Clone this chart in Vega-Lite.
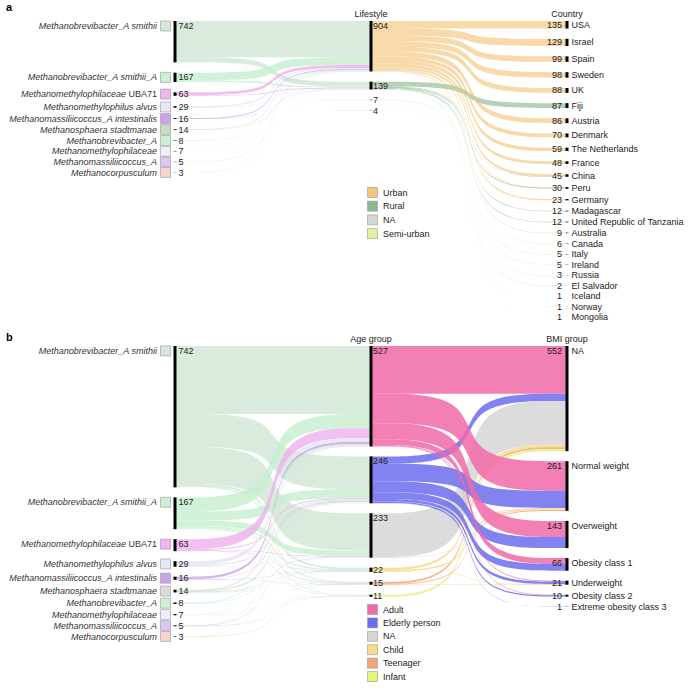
{
"$schema":"https://vega.github.io/schema/vega-lite/v6.json",
"padding":{"top":2,"left":0,"right":0,"bottom":0},
"spacing":0,
"config":{"view":{"stroke":null},"font":"Liberation Sans","text":{"font":"Liberation Sans","fontSize":9,"color":"#222"},"title":{"font":"Liberation Sans"}},
"datasets":{
"links":[
{"p":"a","s":0,"src":"Methanobrevibacter_A smithii","tgt":"Urban","v":651},
{"p":"a","s":0,"src":"Methanobrevibacter_A smithii","tgt":"Rural","v":85},
{"p":"a","s":0,"src":"Methanobrevibacter_A smithii","tgt":"NA","v":4},
{"p":"a","s":0,"src":"Methanobrevibacter_A smithii","tgt":"Semi-urban","v":2},
{"p":"a","s":0,"src":"Methanobrevibacter_A smithii_A","tgt":"Urban","v":140},
{"p":"a","s":0,"src":"Methanobrevibacter_A smithii_A","tgt":"Rural","v":25},
{"p":"a","s":0,"src":"Methanobrevibacter_A smithii_A","tgt":"NA","v":2},
{"p":"a","s":0,"src":"Methanomethylophilaceae UBA71","tgt":"Urban","v":50},
{"p":"a","s":0,"src":"Methanomethylophilaceae UBA71","tgt":"Rural","v":12},
{"p":"a","s":0,"src":"Methanomethylophilaceae UBA71","tgt":"Semi-urban","v":1},
{"p":"a","s":0,"src":"Methanomethylophilus alvus","tgt":"Urban","v":22},
{"p":"a","s":0,"src":"Methanomethylophilus alvus","tgt":"Rural","v":7},
{"p":"a","s":0,"src":"Methanomassiliicoccus_A intestinalis","tgt":"Urban","v":13},
{"p":"a","s":0,"src":"Methanomassiliicoccus_A intestinalis","tgt":"Rural","v":3},
{"p":"a","s":0,"src":"Methanosphaera stadtmanae","tgt":"Urban","v":9},
{"p":"a","s":0,"src":"Methanosphaera stadtmanae","tgt":"Rural","v":5},
{"p":"a","s":0,"src":"Methanobrevibacter_A","tgt":"Urban","v":6},
{"p":"a","s":0,"src":"Methanobrevibacter_A","tgt":"Rural","v":2},
{"p":"a","s":0,"src":"Methanomethylophilaceae","tgt":"Urban","v":5},
{"p":"a","s":0,"src":"Methanomethylophilaceae","tgt":"NA","v":1},
{"p":"a","s":0,"src":"Methanomethylophilaceae","tgt":"Semi-urban","v":1},
{"p":"a","s":0,"src":"Methanomassiliicoccus_A","tgt":"Urban","v":5},
{"p":"a","s":0,"src":"Methanocorpusculum","tgt":"Urban","v":3},
{"p":"a","s":1,"src":"Urban","tgt":"USA","v":135},
{"p":"a","s":1,"src":"Urban","tgt":"Israel","v":129},
{"p":"a","s":1,"src":"Urban","tgt":"Spain","v":99},
{"p":"a","s":1,"src":"Urban","tgt":"Sweden","v":98},
{"p":"a","s":1,"src":"Urban","tgt":"UK","v":88},
{"p":"a","s":1,"src":"Rural","tgt":"Fiji","v":87},
{"p":"a","s":1,"src":"Urban","tgt":"Austria","v":86},
{"p":"a","s":1,"src":"Urban","tgt":"Denmark","v":70},
{"p":"a","s":1,"src":"Urban","tgt":"The Netherlands","v":59},
{"p":"a","s":1,"src":"Urban","tgt":"France","v":48},
{"p":"a","s":1,"src":"Urban","tgt":"China","v":39},
{"p":"a","s":1,"src":"Rural","tgt":"China","v":6},
{"p":"a","s":1,"src":"Urban","tgt":"Peru","v":7},
{"p":"a","s":1,"src":"Rural","tgt":"Peru","v":19},
{"p":"a","s":1,"src":"Semi-urban","tgt":"Peru","v":4},
{"p":"a","s":1,"src":"Urban","tgt":"Germany","v":23},
{"p":"a","s":1,"src":"Rural","tgt":"Madagascar","v":12},
{"p":"a","s":1,"src":"Rural","tgt":"United Republic of Tanzania","v":12},
{"p":"a","s":1,"src":"Urban","tgt":"Australia","v":9},
{"p":"a","s":1,"src":"Urban","tgt":"Canada","v":3},
{"p":"a","s":1,"src":"NA","tgt":"Canada","v":3},
{"p":"a","s":1,"src":"Urban","tgt":"Italy","v":3},
{"p":"a","s":1,"src":"NA","tgt":"Italy","v":2},
{"p":"a","s":1,"src":"Urban","tgt":"Ireland","v":5},
{"p":"a","s":1,"src":"Urban","tgt":"Russia","v":1},
{"p":"a","s":1,"src":"NA","tgt":"Russia","v":2},
{"p":"a","s":1,"src":"Rural","tgt":"El Salvador","v":2},
{"p":"a","s":1,"src":"Urban","tgt":"Iceland","v":1},
{"p":"a","s":1,"src":"Urban","tgt":"Norway","v":1},
{"p":"a","s":1,"src":"Rural","tgt":"Mongolia","v":1},
{"p":"b","s":0,"src":"Methanobrevibacter_A smithii","tgt":"Adult","v":357},
{"p":"b","s":0,"src":"Methanobrevibacter_A smithii","tgt":"Elderly person","v":173},
{"p":"b","s":0,"src":"Methanobrevibacter_A smithii","tgt":"NA","v":195},
{"p":"b","s":0,"src":"Methanobrevibacter_A smithii","tgt":"Child","v":9},
{"p":"b","s":0,"src":"Methanobrevibacter_A smithii","tgt":"Teenager","v":5},
{"p":"b","s":0,"src":"Methanobrevibacter_A smithii","tgt":"Infant","v":3},
{"p":"b","s":0,"src":"Methanobrevibacter_A smithii_A","tgt":"Adult","v":75},
{"p":"b","s":0,"src":"Methanobrevibacter_A smithii_A","tgt":"Elderly person","v":47},
{"p":"b","s":0,"src":"Methanobrevibacter_A smithii_A","tgt":"NA","v":30},
{"p":"b","s":0,"src":"Methanobrevibacter_A smithii_A","tgt":"Child","v":7},
{"p":"b","s":0,"src":"Methanobrevibacter_A smithii_A","tgt":"Teenager","v":5},
{"p":"b","s":0,"src":"Methanobrevibacter_A smithii_A","tgt":"Infant","v":3},
{"p":"b","s":0,"src":"Methanomethylophilaceae UBA71","tgt":"Adult","v":52},
{"p":"b","s":0,"src":"Methanomethylophilaceae UBA71","tgt":"Elderly person","v":5},
{"p":"b","s":0,"src":"Methanomethylophilaceae UBA71","tgt":"NA","v":3},
{"p":"b","s":0,"src":"Methanomethylophilaceae UBA71","tgt":"Child","v":2},
{"p":"b","s":0,"src":"Methanomethylophilaceae UBA71","tgt":"Teenager","v":1},
{"p":"b","s":0,"src":"Methanomethylophilus alvus","tgt":"Adult","v":18},
{"p":"b","s":0,"src":"Methanomethylophilus alvus","tgt":"Elderly person","v":8},
{"p":"b","s":0,"src":"Methanomethylophilus alvus","tgt":"NA","v":2},
{"p":"b","s":0,"src":"Methanomethylophilus alvus","tgt":"Teenager","v":1},
{"p":"b","s":0,"src":"Methanomassiliicoccus_A intestinalis","tgt":"Adult","v":12},
{"p":"b","s":0,"src":"Methanomassiliicoccus_A intestinalis","tgt":"Elderly person","v":2},
{"p":"b","s":0,"src":"Methanomassiliicoccus_A intestinalis","tgt":"Child","v":1},
{"p":"b","s":0,"src":"Methanomassiliicoccus_A intestinalis","tgt":"Teenager","v":1},
{"p":"b","s":0,"src":"Methanosphaera stadtmanae","tgt":"Adult","v":5},
{"p":"b","s":0,"src":"Methanosphaera stadtmanae","tgt":"Elderly person","v":5},
{"p":"b","s":0,"src":"Methanosphaera stadtmanae","tgt":"NA","v":2},
{"p":"b","s":0,"src":"Methanosphaera stadtmanae","tgt":"Child","v":1},
{"p":"b","s":0,"src":"Methanosphaera stadtmanae","tgt":"Teenager","v":1},
{"p":"b","s":0,"src":"Methanobrevibacter_A","tgt":"Adult","v":4},
{"p":"b","s":0,"src":"Methanobrevibacter_A","tgt":"Elderly person","v":2},
{"p":"b","s":0,"src":"Methanobrevibacter_A","tgt":"Child","v":1},
{"p":"b","s":0,"src":"Methanobrevibacter_A","tgt":"Infant","v":1},
{"p":"b","s":0,"src":"Methanomethylophilaceae","tgt":"Adult","v":2},
{"p":"b","s":0,"src":"Methanomethylophilaceae","tgt":"Elderly person","v":2},
{"p":"b","s":0,"src":"Methanomethylophilaceae","tgt":"NA","v":1},
{"p":"b","s":0,"src":"Methanomethylophilaceae","tgt":"Child","v":1},
{"p":"b","s":0,"src":"Methanomethylophilaceae","tgt":"Infant","v":1},
{"p":"b","s":0,"src":"Methanomassiliicoccus_A","tgt":"Adult","v":1},
{"p":"b","s":0,"src":"Methanomassiliicoccus_A","tgt":"Elderly person","v":2},
{"p":"b","s":0,"src":"Methanomassiliicoccus_A","tgt":"Teenager","v":1},
{"p":"b","s":0,"src":"Methanomassiliicoccus_A","tgt":"Infant","v":1},
{"p":"b","s":0,"src":"Methanocorpusculum","tgt":"Adult","v":1},
{"p":"b","s":0,"src":"Methanocorpusculum","tgt":"Infant","v":2},
{"p":"b","s":1,"src":"Adult","tgt":"NA","v":250},
{"p":"b","s":1,"src":"Elderly person","tgt":"NA","v":39},
{"p":"b","s":1,"src":"NA","tgt":"NA","v":230},
{"p":"b","s":1,"src":"Child","tgt":"NA","v":12},
{"p":"b","s":1,"src":"Teenager","tgt":"NA","v":10},
{"p":"b","s":1,"src":"Infant","tgt":"NA","v":11},
{"p":"b","s":1,"src":"Adult","tgt":"Normal weight","v":155},
{"p":"b","s":1,"src":"Elderly person","tgt":"Normal weight","v":91},
{"p":"b","s":1,"src":"NA","tgt":"Normal weight","v":3},
{"p":"b","s":1,"src":"Child","tgt":"Normal weight","v":8},
{"p":"b","s":1,"src":"Teenager","tgt":"Normal weight","v":4},
{"p":"b","s":1,"src":"Adult","tgt":"Overweight","v":85},
{"p":"b","s":1,"src":"Elderly person","tgt":"Overweight","v":58},
{"p":"b","s":1,"src":"Adult","tgt":"Obesity class 1","v":30},
{"p":"b","s":1,"src":"Elderly person","tgt":"Obesity class 1","v":36},
{"p":"b","s":1,"src":"Adult","tgt":"Underweight","v":4},
{"p":"b","s":1,"src":"Elderly person","tgt":"Underweight","v":14},
{"p":"b","s":1,"src":"Child","tgt":"Underweight","v":2},
{"p":"b","s":1,"src":"Teenager","tgt":"Underweight","v":1},
{"p":"b","s":1,"src":"Adult","tgt":"Obesity class 2","v":3},
{"p":"b","s":1,"src":"Elderly person","tgt":"Obesity class 2","v":7},
{"p":"b","s":1,"src":"Elderly person","tgt":"Extreme obesity class 3","v":1}
],
"headers":[{"k":"a1","h":"Lifestyle"},{"k":"a2","h":"Country"},{"k":"b1","h":"Age group"},{"k":"b2","h":"BMI group"}]
},
"data":{"name":"links"},
"transform":[
{"window":[{"op":"row_number","as":"idx"}]},
{"joinaggregate":[{"op":"sum","field":"v","as":"sT"},{"op":"min","field":"idx","as":"sF"}],"groupby":["p","s","src"]},
{"joinaggregate":[{"op":"sum","field":"v","as":"tT"},{"op":"min","field":"idx","as":"tF"}],"groupby":["p","s","tgt"]},
{"window":[{"op":"sum","field":"v","as":"sCum"},{"op":"dense_rank","as":"sR"}],"groupby":["p","s"],"sort":[{"field":"sT","order":"descending"},{"field":"sF","order":"ascending"}],"frame":[null,0]},
{"window":[{"op":"sum","field":"v","as":"tCum"},{"op":"dense_rank","as":"tR"}],"groupby":["p","s"],"sort":[{"field":"tT","order":"descending"},{"field":"tF","order":"ascending"}],"frame":[null,0]},
{"window":[{"op":"sum","field":"v","as":"sOff"}],"groupby":["p","s","src"],"sort":[{"field":"tT","order":"descending"},{"field":"tF","order":"ascending"}],"frame":[null,0]},
{"window":[{"op":"sum","field":"v","as":"tOff"}],"groupby":["p","s","tgt"],"sort":[{"field":"sT","order":"descending"},{"field":"sF","order":"ascending"}],"frame":[null,0]},
{"calculate":"datum.p == 'a' ? 185 : 52.5","as":"pad"},
{"calculate":"datum.sCum - datum.sT + (datum.sR - 1) * datum.pad + datum.sOff - datum.v","as":"sy0"},
{"calculate":"datum.sy0 + datum.v","as":"sy1"},
{"calculate":"datum.tCum - datum.tT + (datum.tR - 1) * datum.pad + datum.tOff - datum.v","as":"ty0"},
{"calculate":"datum.ty0 + datum.v","as":"ty1"}
],
"resolve":{"scale":{"color":"independent","fill":"independent","x":"independent","y":"independent"},"legend":{"color":"independent"}},
"vconcat":[
{
"title":{"text":"a","anchor":"start","fontSize":11,"fontWeight":"bold","dx":6,"dy":3,"offset":0,"color":"#000"},
"width":700,"height":313,
"transform":[{"filter":"datum.p == 'a'"}],
"layer":[
{
"transform":[
{"calculate":"[0, 1, 2, 3]","as":"pt"},
{"flatten":["pt"]},
{"calculate":"datum.s + [0, 0.5, 0.5001, 1][datum.pt]","as":"lx"},
{"calculate":"datum.pt < 2 ? datum.sy0 : datum.ty0","as":"ly0"},
{"calculate":"datum.pt < 2 ? datum.sy1 : datum.ty1","as":"ly1"},
{"calculate":"datum.s + '|' + datum.src + '|' + datum.tgt","as":"lid"}
],
"mark":{"type":"area","interpolate":"basis"},
"encoding":{
"x":{"field":"lx","type":"quantitative","scale":{"domain":[0,2],"range":[175,567],"nice":false,"zero":false},"axis":null},
"y":{"field":"ly0","type":"quantitative","scale":{"domain":[0,5309],"range":[2,298],"nice":false,"zero":false},"axis":null,"stack":null},
"y2":{"field":"ly1"},
"color":{"field":"src","type":"nominal",
"scale":{"domain":["Methanobrevibacter_A smithii","Methanobrevibacter_A smithii_A","Methanomethylophilaceae UBA71","Methanomethylophilus alvus","Methanomassiliicoccus_A intestinalis","Methanosphaera stadtmanae","Methanobrevibacter_A","Methanomethylophilaceae","Methanomassiliicoccus_A","Methanocorpusculum","Urban","Rural","NA","Semi-urban"],
"range":["#cfe6d4","#c6efcf","#eeb0ee","#e4e4f4","#c9a0e6","#c5d8c6","#c8efd0","#efeaf8","#d9c3f0","#f7cfca","#f3c47c","#8cba90","#d6d6d6","#e4efa0"]},
"legend":{"values":["Urban","Rural","NA","Semi-urban"],"orient":"none","legendX":367,"legendY":168,"title":null,"symbolType":"square","symbolSize":100,"symbolStrokeColor":"#999","symbolStrokeWidth":0.6,"symbolOpacity":1,"labelFontSize":9,"labelFont":"Liberation Sans","labelColor":"#222","labelOffset":5,"rowPadding":0.7,"padding":0}},
"detail":{"field":"lid"},
"opacity":{"condition":{"test":"datum.s == 0","value":0.8},"value":0.65}
}
},
{
"transform":[
{"calculate":"[{col: datum.s, node: datum.src, y0: datum.sy0, y1: datum.sy1, keep: datum.s == 0}, {col: datum.s + 1, node: datum.tgt, y0: datum.ty0, y1: datum.ty1, keep: true}]","as":"ep"},
{"flatten":["ep"]},
{"filter":"datum.ep.keep"},
{"calculate":"datum.ep.col","as":"col"},
{"calculate":"datum.ep.node","as":"node"},
{"calculate":"datum.ep.y0","as":"ey0"},
{"calculate":"datum.ep.y1","as":"ey1"},
{"aggregate":[{"op":"min","field":"ey0","as":"y0"},{"op":"max","field":"ey1","as":"y1"},{"op":"sum","field":"v","as":"val"}],"groupby":["p","col","node"]},
{"calculate":"min((datum.y0 + datum.y1) / 2, datum.y0 + 90)","as":"lab"},
{"calculate":"datum.p + datum.col","as":"k"},
{"lookup":"k","from":{"data":{"name":"headers"},"key":"k","fields":["h"]}},
{"joinaggregate":[{"op":"min","field":"y0","as":"cmin"}],"groupby":["p","col"]}
],
"encoding":{
"x":{"field":"col","type":"quantitative","scale":{"domain":[0,2],"range":[175,567],"nice":false,"zero":false},"axis":null},
"y":{"field":"lab","type":"quantitative","scale":{"domain":[0,5309],"range":[2,298],"nice":false,"zero":false},"axis":null}
},
"layer":[
{"mark":{"type":"rule","strokeWidth":3,"color":"#000","strokeCap":"butt"},
 "encoding":{"y":{"field":"y0","type":"quantitative","scale":{"domain":[0,5309],"range":[2,298],"nice":false,"zero":false},"axis":null},"y2":{"field":"y1"}}},
{"transform":[{"filter":"datum.col == 0"}],
 "mark":{"type":"rect","xOffset":-14.5,"x2Offset":-4.5,"yOffset":-5,"y2Offset":5,"stroke":"#999","strokeWidth":0.6},
 "encoding":{"x2":{"field":"col"},"y2":{"field":"lab"},
 "fill":{"field":"node","type":"nominal","legend":null,"scale":{"domain":["Methanobrevibacter_A smithii","Methanobrevibacter_A smithii_A","Methanomethylophilaceae UBA71","Methanomethylophilus alvus","Methanomassiliicoccus_A intestinalis","Methanosphaera stadtmanae","Methanobrevibacter_A","Methanomethylophilaceae","Methanomassiliicoccus_A","Methanocorpusculum"],"range":["#d6e8da","#cdf0d4","#f0b4f0","#e8e8f4","#cba4e8","#c9dcca","#cdf0d4","#f1edf8","#dbc6f0","#f8d2cd"]}}}},
{"transform":[{"filter":"datum.col == 0 && !test(regexp(' [A-Z]+[0-9]+$'), datum.node)"}],
 "mark":{"type":"text","align":"right","baseline":"middle","dx":-18,"fontStyle":"italic","color":"#333"},
 "encoding":{"text":{"field":"node"}}},
{"transform":[{"filter":"datum.col == 0 && test(regexp(' [A-Z]+[0-9]+$'), datum.node)"},{"calculate":"replace(datum.node, regexp(' [A-Z]+[0-9]+$'), '')","as":"it"}],
 "mark":{"type":"text","align":"right","baseline":"middle","dx":-49,"fontStyle":"italic","color":"#333"},
 "encoding":{"text":{"field":"it"}}},
{"transform":[{"filter":"datum.col == 0 && test(regexp(' [A-Z]+[0-9]+$'), datum.node)"},{"calculate":"replace(datum.node, regexp('^.* '), '')","as":"rm"}],
 "mark":{"type":"text","align":"right","baseline":"middle","dx":-18,"color":"#333"},
 "encoding":{"text":{"field":"rm"}}},
{"transform":[{"filter":"datum.col == 0"}],
 "mark":{"type":"text","align":"left","baseline":"middle","dx":3.5},
 "encoding":{"text":{"field":"val","type":"quantitative","format":"d"}}},
{"transform":[{"filter":"datum.col == 1"}],
 "mark":{"type":"text","align":"left","baseline":"middle","dx":2},
 "encoding":{"text":{"field":"val","type":"quantitative","format":"d"}}},
{"transform":[{"filter":"datum.col == 2"}],
 "mark":{"type":"text","align":"right","baseline":"middle","dx":-5},
 "encoding":{"text":{"field":"val","type":"quantitative","format":"d"}}},
{"transform":[{"filter":"datum.col == 2"}],
 "mark":{"type":"text","align":"left","baseline":"middle","dx":4.5},
 "encoding":{"text":{"field":"node"}}},
{"transform":[{"filter":"datum.h != null && datum.y0 == datum.cmin"}],
 "mark":{"type":"text","align":"center","baseline":"bottom","dy":-2},
 "encoding":{"y":{"field":"y0","type":"quantitative","scale":{"domain":[0,5309],"range":[2,298],"nice":false,"zero":false},"axis":null},"text":{"field":"h"}}}
]
}
]
},
{
"title":{"text":"b","anchor":"start","fontSize":11,"fontWeight":"bold","dx":6,"dy":8,"offset":0,"color":"#000"},
"width":700,"height":340,
"transform":[{"filter":"datum.p == 'b'"}],
"layer":[
{
"transform":[
{"calculate":"[0, 1, 2, 3]","as":"pt"},
{"flatten":["pt"]},
{"calculate":"datum.s + [0, 0.5, 0.5001, 1][datum.pt]","as":"lx"},
{"calculate":"datum.pt < 2 ? datum.sy0 : datum.ty0","as":"ly0"},
{"calculate":"datum.pt < 2 ? datum.sy1 : datum.ty1","as":"ly1"},
{"calculate":"datum.s + '|' + datum.src + '|' + datum.tgt","as":"lid"}
],
"mark":{"type":"area","interpolate":"basis"},
"encoding":{
"x":{"field":"lx","type":"quantitative","scale":{"domain":[0,2],"range":[175,567],"nice":false,"zero":false},"axis":null},
"y":{"field":"ly0","type":"quantitative","scale":{"domain":[0,1526.5],"range":[-1,289.8],"nice":false,"zero":false},"axis":null,"stack":null},
"y2":{"field":"ly1"},
"color":{"field":"src","type":"nominal",
"scale":{"domain":["Methanobrevibacter_A smithii","Methanobrevibacter_A smithii_A","Methanomethylophilaceae UBA71","Methanomethylophilus alvus","Methanomassiliicoccus_A intestinalis","Methanosphaera stadtmanae","Methanobrevibacter_A","Methanomethylophilaceae","Methanomassiliicoccus_A","Methanocorpusculum","Adult","Elderly person","NA","Child","Teenager","Infant"],
"range":["#cfe6d4","#c6efcf","#eeb0ee","#e4e4f4","#c9a0e6","#c5d8c6","#c8efd0","#efeaf8","#d9c3f0","#f7cfca","#f06aa8","#6c6cef","#d6d6d6","#f7d98c","#f5a678","#e3f57a"]},
"legend":{"values":["Adult","Elderly person","NA","Child","Teenager","Infant"],"orient":"none","legendX":367,"legendY":257,"title":null,"symbolType":"square","symbolSize":100,"symbolStrokeColor":"#999","symbolStrokeWidth":0.6,"symbolOpacity":1,"labelFontSize":9,"labelFont":"Liberation Sans","labelColor":"#222","labelOffset":5,"rowPadding":0.4,"padding":0}},
"detail":{"field":"lid"},
"opacity":{"condition":{"test":"datum.s == 0","value":0.8},"value":0.85}
}
},
{
"transform":[
{"calculate":"[{col: datum.s, node: datum.src, y0: datum.sy0, y1: datum.sy1, keep: datum.s == 0}, {col: datum.s + 1, node: datum.tgt, y0: datum.ty0, y1: datum.ty1, keep: true}]","as":"ep"},
{"flatten":["ep"]},
{"filter":"datum.ep.keep"},
{"calculate":"datum.ep.col","as":"col"},
{"calculate":"datum.ep.node","as":"node"},
{"calculate":"datum.ep.y0","as":"ey0"},
{"calculate":"datum.ep.y1","as":"ey1"},
{"aggregate":[{"op":"min","field":"ey0","as":"y0"},{"op":"max","field":"ey1","as":"y1"},{"op":"sum","field":"v","as":"val"}],"groupby":["p","col","node"]},
{"calculate":"min((datum.y0 + datum.y1) / 2, datum.y0 + 26)","as":"lab"},
{"calculate":"datum.p + datum.col","as":"k"},
{"lookup":"k","from":{"data":{"name":"headers"},"key":"k","fields":["h"]}},
{"joinaggregate":[{"op":"min","field":"y0","as":"cmin"}],"groupby":["p","col"]}
],
"encoding":{
"x":{"field":"col","type":"quantitative","scale":{"domain":[0,2],"range":[175,567],"nice":false,"zero":false},"axis":null},
"y":{"field":"lab","type":"quantitative","scale":{"domain":[0,1526.5],"range":[-1,289.8],"nice":false,"zero":false},"axis":null}
},
"layer":[
{"mark":{"type":"rule","strokeWidth":3,"color":"#000","strokeCap":"butt"},
 "encoding":{"y":{"field":"y0","type":"quantitative","scale":{"domain":[0,1526.5],"range":[-1,289.8],"nice":false,"zero":false},"axis":null},"y2":{"field":"y1"}}},
{"transform":[{"filter":"datum.col == 0"}],
 "mark":{"type":"rect","xOffset":-14.5,"x2Offset":-4.5,"yOffset":-5,"y2Offset":5,"stroke":"#999","strokeWidth":0.6},
 "encoding":{"x2":{"field":"col"},"y2":{"field":"lab"},
 "fill":{"field":"node","type":"nominal","legend":null,"scale":{"domain":["Methanobrevibacter_A smithii","Methanobrevibacter_A smithii_A","Methanomethylophilaceae UBA71","Methanomethylophilus alvus","Methanomassiliicoccus_A intestinalis","Methanosphaera stadtmanae","Methanobrevibacter_A","Methanomethylophilaceae","Methanomassiliicoccus_A","Methanocorpusculum"],"range":["#d6e8da","#cdf0d4","#f0b4f0","#e8e8f4","#cba4e8","#dcdcdc","#cdf0d4","#f1edf8","#dbc6f0","#f8d2cd"]}}}},
{"transform":[{"filter":"datum.col == 0 && !test(regexp(' [A-Z]+[0-9]+$'), datum.node)"}],
 "mark":{"type":"text","align":"right","baseline":"middle","dx":-18,"fontStyle":"italic","color":"#333"},
 "encoding":{"text":{"field":"node"}}},
{"transform":[{"filter":"datum.col == 0 && test(regexp(' [A-Z]+[0-9]+$'), datum.node)"},{"calculate":"replace(datum.node, regexp(' [A-Z]+[0-9]+$'), '')","as":"it"}],
 "mark":{"type":"text","align":"right","baseline":"middle","dx":-49,"fontStyle":"italic","color":"#333"},
 "encoding":{"text":{"field":"it"}}},
{"transform":[{"filter":"datum.col == 0 && test(regexp(' [A-Z]+[0-9]+$'), datum.node)"},{"calculate":"replace(datum.node, regexp('^.* '), '')","as":"rm"}],
 "mark":{"type":"text","align":"right","baseline":"middle","dx":-18,"color":"#333"},
 "encoding":{"text":{"field":"rm"}}},
{"transform":[{"filter":"datum.col == 0"}],
 "mark":{"type":"text","align":"left","baseline":"middle","dx":3.5},
 "encoding":{"text":{"field":"val","type":"quantitative","format":"d"}}},
{"transform":[{"filter":"datum.col == 1"}],
 "mark":{"type":"text","align":"left","baseline":"middle","dx":2},
 "encoding":{"text":{"field":"val","type":"quantitative","format":"d"}}},
{"transform":[{"filter":"datum.col == 2"}],
 "mark":{"type":"text","align":"right","baseline":"middle","dx":-5},
 "encoding":{"text":{"field":"val","type":"quantitative","format":"d"}}},
{"transform":[{"filter":"datum.col == 2"}],
 "mark":{"type":"text","align":"left","baseline":"middle","dx":4.5},
 "encoding":{"text":{"field":"node"}}},
{"transform":[{"filter":"datum.h != null && datum.y0 == datum.cmin"}],
 "mark":{"type":"text","align":"center","baseline":"bottom","dy":-2},
 "encoding":{"y":{"field":"y0","type":"quantitative","scale":{"domain":[0,1526.5],"range":[-1,289.8],"nice":false,"zero":false},"axis":null},"text":{"field":"h"}}}
]
}
]
}
]
}
